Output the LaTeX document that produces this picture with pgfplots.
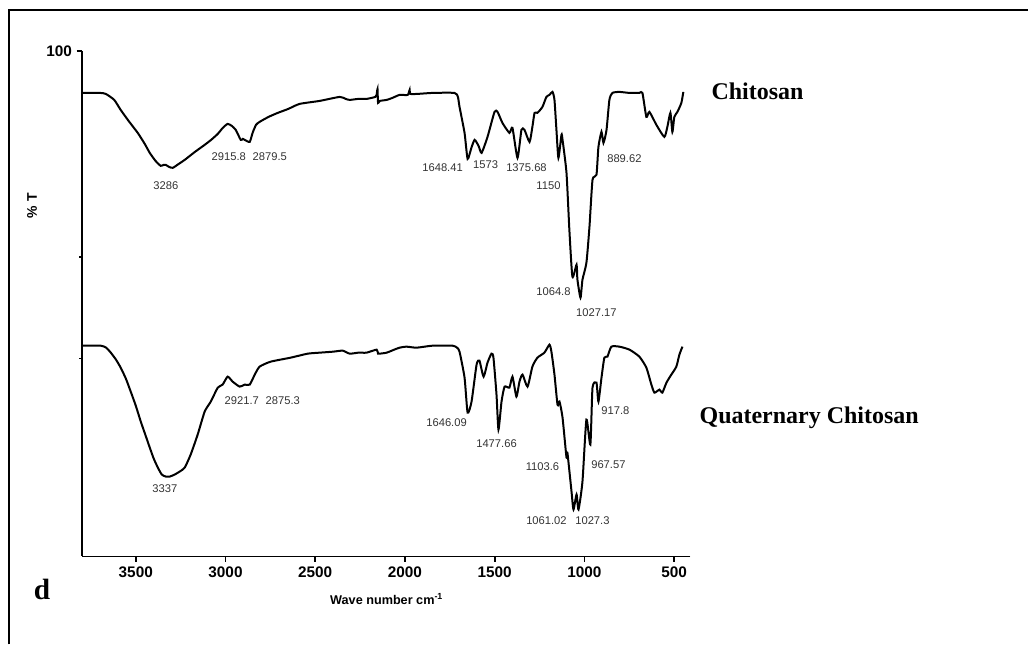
\documentclass[border=0pt]{standalone}
\usepackage{pgfplots}
\pgfplotsset{compat=1.18}
\usepackage{fontspec}
\setmainfont{Liberation Serif}
\newfontfamily\arialf{Liberation Sans}
\newfontfamily\timesf{Liberation Serif}
\begin{document}
\begin{tikzpicture}
\begin{scope}[x=0.75pt,y=-0.75pt,shift={(-61.5pt,417.75pt)}]
\path[use as bounding box] (0,0) rectangle (1029,645);
\end{scope}
\begin{axis}[
  at={(0,0)}, anchor=south west,
  scale only axis, width=456.75pt, height=379.5pt,
  xmin=410, xmax=3800, ymin=51, ymax=557,
  x dir=reverse, y dir=reverse,
  axis x line*=bottom, axis y line*=left,
  axis line style={line width=1.3pt,-},
  xtick={500,1000,1500,2000,2500,3000,3500},
  ytick={51}, yticklabels={100},
  extra y ticks={257,359}, extra y tick labels={},
  extra y tick style={major tick length=2pt},
  tick align=outside, major tick length=4pt,
  tick style={line width=1.2pt,black},
  minor tick num=0,
  /pgf/number format/assume math mode=true,
  /pgf/number format/1000 sep={},
  ticklabel style={font=\arialf\bfseries\fontsize{11.5}{13}\selectfont},
  clip=false,
]
\addplot[black, line width=1.5pt, smooth, tension=0.35] coordinates {
(3800,93)(3700,93)(3667,94)(3620,100)(3584,110)(3540,121)(3489,133)(3450,144)(3422,153)
(3390,161)(3361,166)(3345,165)(3333,165)(3315,167)(3294,168)(3260,164)
(3227,160)(3170,152)(3116,145)(3080,140)(3043,134)(3015,128)(2988,124)(2965,126)(2943,130)(2915,140)(2903,139)(2893,140)(2865,142)
(2849,133)(2830,125)(2810,122)(2760,117)(2709,113)(2650,109)(2587,104)(2475,101)(2364,97)(2330,99)(2308,100)
(2260,99)(2214,99)(2165,97)(2158,95)(2153,89)(2150,103)(2140,101)(2102,100)
(2070,98)(2030,95)(1985,95)(1974,90)(1970,94)(1930,94)(1846,93)(1724,93)
(1705,97)(1696,107)(1668,133)(1651,159)(1630,148)(1612,140)(1590,146)(1573,153)(1540,137)
(1501,112)(1484,112)(1457,123)(1418,133)(1401,128)(1373,158)(1351,130)(1334,130)
(1306,142)(1290,127)(1278,113)(1262,113)(1234,107)(1212,97)(1195,95)(1178,92)
(1167,100)(1156,130)(1145,158)(1128,135)(1122,140)(1100,173)(1084,230)(1067,277)
(1044,265)(1039,280)(1022,298)(1011,280)(989,263)(972,227)(955,180)(933,175)
(922,147)(905,132)(894,143)(877,130)(861,100)(844,93)(805,92)(750,93)(694,93)
(677,93)(655,117)(638,112)(599,125)(555,137)(538,127)(521,113)(510,132)(499,117)
(482,112)(460,103)(449,92)
};
\addplot[black, line width=1.5pt, smooth, tension=0.35] coordinates {
(3800,346)(3695,346)(3665,348)(3639,353)(3610,360)(3584,368)(3555,379)(3528,392)(3500,406)(3472,422)(3445,436)(3422,448)(3400,459)(3377,468)(3355,475)
(3333,477)(3310,477)(3283,475)(3255,472)(3227,468)(3194,455)(3155,435)(3116,412)(3082,402)(3043,388)
(3016,385)(2988,377)(2960,382)(2921,387)(2893,385)(2865,385)(2837,375)(2810,367)
(2748,362)(2637,358)(2542,354)(2475,353)(2400,352)(2347,351)(2308,354)(2260,353)
(2214,353)(2158,350)(2150,354)(2141,354)(2102,353)(2060,350)(2030,348)(1991,347)
(1935,348)(1846,346)(1735,346)(1710,348)(1696,352)(1668,378)(1651,413)(1629,402)(1601,365)
(1585,361)(1562,377)(1540,363)(1518,354)(1507,358)(1490,395)(1479,430)(1462,402)
(1445,387)(1418,388)(1401,377)(1379,397)(1362,382)(1345,375)(1317,387)(1290,367)
(1262,358)(1223,353)(1195,345)(1184,352)(1167,375)(1150,405)(1139,402)(1122,418)
(1100,458)(1095,453)(1072,492)(1061,510)(1044,495)(1033,510)(1011,482)(989,420)
(967,445)(955,388)(933,383)(922,402)(905,378)(889,358)(872,357)(850,347)(805,347)
(749,350)(694,357)(655,368)(627,385)(610,393)(582,390)(566,393)(543,383)(516,375)
(488,367)(471,355)(454,347)
};
\end{axis}
\begin{scope}[x=0.75pt,y=-0.75pt,shift={(-61.5pt,417.75pt)}]
\draw[line width=1.5pt] (9,645) -- (9,10) -- (1029,10);
\begin{scope}[every node/.style={font=\arialf\fontsize{8.4}{10}\selectfont, text=black!80, inner sep=0pt}]
\node at (166,186) {3286};
\node at (229,157) {2915.8};
\node at (270,157) {2879.5};
\node at (443,168) {1648.41};
\node at (486,165) {1573};
\node at (527,168) {1375.68};
\node at (549,186) {1150};
\node at (554,292) {1064.8};
\node at (597,313) {1027.17};
\node at (625,159) {889.62};
\node at (165,489) {3337};
\node at (242,401) {2921.7};
\node at (283,401) {2875.3};
\node at (447,423) {1646.09};
\node at (497,444) {1477.66};
\node at (543,467) {1103.6};
\node at (609,465) {967.57};
\node at (616,411) {917.8};
\node at (547,521) {1061.02};
\node at (593,521) {1027.3};
\end{scope}
\node[anchor=west, inner sep=0pt, font=\timesf\bfseries\fontsize{18}{20}\selectfont] at (712,91) {Chitosan};
\node[anchor=west, inner sep=0pt, font=\timesf\bfseries\fontsize{18}{20}\selectfont] at (700,418) {Quaternary Chitosan};
\node[inner sep=0pt, font=\timesf\bfseries\fontsize{22}{24}\selectfont] at (42,590) {d};
\node[inner sep=0pt, font=\arialf\bfseries\fontsize{9.5}{11}\selectfont] at (387,600) {Wave number cm\textsuperscript{-1}};
\node[inner sep=0pt, rotate=90, font=\arialf\bfseries\fontsize{10.5}{12}\selectfont] at (32,206) {\% T};
\end{scope}
\end{tikzpicture}
\end{document}
